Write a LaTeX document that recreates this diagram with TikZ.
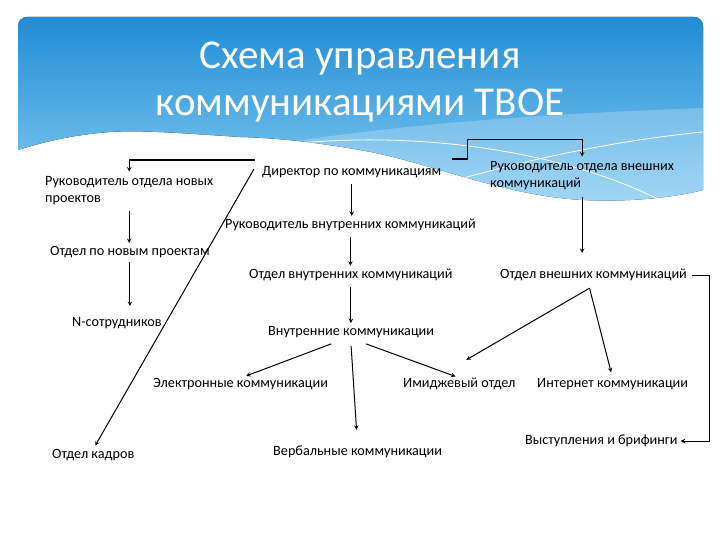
\documentclass[tikz,border=0pt]{standalone}
\usepackage{fontspec}
\setmainfont{Carlito}
\usetikzlibrary{calc}

\definecolor{skytop}{HTML}{1887D2}
\definecolor{skybot}{HTML}{86CCF2}

\newcommand{\skywave}{(18,0) -- (703,0) -- (703,190)
    .. controls (660,201) and (600,203) .. (560,198)
    .. controls (490,190) and (420,160) .. (360,150)
    .. controls (320,143) and (280,138) .. (240,137)
    .. controls (180,133) and (140,130) .. (110,132)
    .. controls (70,135) and (40,143) .. (18,150) -- cycle}

\begin{document}
\begin{tikzpicture}[x=1pt, y=-1pt,
    lbl/.style={anchor=west, inner sep=0pt, align=left,
                font=\fontsize{14.2}{17}\selectfont},
    titlelbl/.style={align=center, text=white, inner sep=0pt,
                     font=\fontsize{41}{47}\selectfont},
    conn/.style={->, >=stealth, line width=1pt},
    thickseg/.style={line width=2pt},
    swoosh/.style={white, line width=0.8pt},
]
\useasboundingbox (0,0) rectangle (720,540);

% --- Sky band behind the title ---
\begin{scope}
  \clip[rounded corners=9pt] (18,17) rectangle (703,260);
  \fill[top color=skytop, bottom color=skybot] \skywave;
  \clip \skywave;
  \fill[white, opacity=.22] (230,152) .. controls (400,120) and (600,112) .. (703,108)
       -- (703,260) -- (230,260) -- cycle;
  \draw[swoosh] (430,188) .. controls (520,160) and (620,140) .. (703,132);
  \draw[swoosh] (300,143) .. controls (420,132) and (560,150) .. (660,200);
\end{scope}

% --- Title ---
\node[titlelbl] (title) at (360,82) {Схема управления\\коммуникациями ТВОЕ};

% --- Units ---
\node[lbl] (nproj)    at (45,191)  {Руководитель отдела новых\\проектов};
\node[lbl] (dir)      at (262,172) {Директор по коммуникациям};
\node[lbl] (extlead)  at (490,176) {Руководитель отдела внешних\\коммуникаций};
\node[lbl] (intlead)  at (225,225) {Руководитель внутренних коммуникаций};
\node[lbl] (nprojdep) at (50,252)  {Отдел по новым проектам};
\node[lbl] (intdep)   at (249,275) {Отдел внутренних коммуникаций};
\node[lbl] (extdep)   at (500,275) {Отдел внешних коммуникаций};
\node[lbl] (staff)    at (72,323)  {N-сотрудников};
\node[lbl] (intcomm)  at (268,332) {Внутренние коммуникации};
\node[lbl] (ecomm)    at (153,384) {Электронные коммуникации};
\node[lbl] (image)    at (403,384) {Имиджевый отдел};
\node[lbl] (inet)     at (537,384) {Интернет коммуникации};
\node[lbl] (hr)       at (52,455)  {Отдел кадров};
\node[lbl] (verbal)   at (273,452) {Вербальные коммуникации};
\node[lbl] (brief)    at (525,441) {Выступления и брифинги};

% --- Branch points ---
\coordinate (dirL) at ([shift={(-7,-6)}]dir.north west);
\coordinate (dirR) at ([shift={(10,-7)}]dir.north east);
\coordinate (dirD) at ([shift={(-8,-3)}]dir.west);
\coordinate (extfork) at ([shift={(-4,7)}]extdep.south);
\coordinate (icL) at ([shift={(-20,6)}]intcomm.south);
\coordinate (icM) at ([shift={(0,8)}]intcomm.south);
\coordinate (icR) at ([shift={(15,6)}]intcomm.south);

% --- Director ---
\draw[thickseg] (dirL) -- (dirL -| nproj.north);
\draw[conn, shorten >=5pt] (dirL -| nproj.north) -- (nproj.north);
\draw[thickseg] (dirR) -- ++(16,0);
\draw[conn, shorten >=5pt] ([xshift=16pt]dirR) -- ++(0,-20) -| (extlead.north);
\draw[conn, shorten >=4pt] (dirD) -- (hr.north);
\draw[conn, shorten <=6pt, shorten >=3pt] (dir.south) -- (dir.south |- intlead.north);

% --- Internal branch ---
\draw[conn, shorten <=6pt, shorten >=3pt] (intlead.south) -- (intlead.south |- intdep.north);
\draw[conn, shorten <=6pt, shorten >=3pt] (intdep.south) -- (intdep.south |- intcomm.north);
\draw[conn, shorten >=6pt] (icL) -- (ecomm.north);
\draw[conn, shorten >=16pt] (icM) -- (verbal.north);
\draw[conn, shorten >=4pt] (icR) -- (image.north);

% --- New projects branch ---
\draw[conn, shorten <=6pt, shorten >=3pt] (nproj.south) -- (nproj.south |- nprojdep.north);
\draw[conn, shorten <=4pt, shorten >=11pt] (nprojdep.south) -- (nprojdep.south |- staff.north);

% --- External branch ---
\draw[conn, shorten <=7pt, shorten >=16pt] (extlead.south) -- (extlead.south |- extdep.north);
\draw[conn] (extfork) -- ([shift={(7,-18)}]image.north);
\draw[conn, shorten >=6pt] (extfork) -- (inet.north);
\draw[conn, shorten <=5pt, shorten >=3pt] (extdep.east) -- ++(22,0) |- (brief.east);

\end{tikzpicture}
\end{document}
